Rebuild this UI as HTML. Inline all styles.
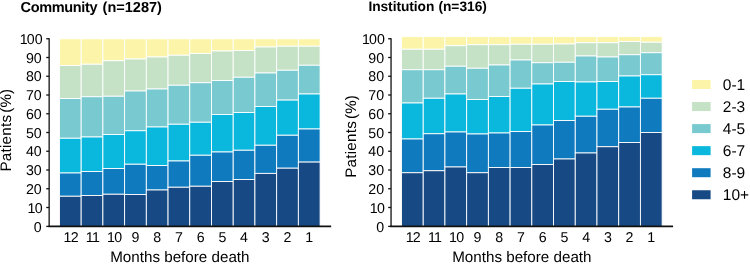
<!DOCTYPE html>
<html lang="en">
<head>
<meta charset="utf-8">
<title>Patients by months before death</title>
<style>
html,body{margin:0;padding:0;background:#fff;}
body{width:750px;height:264px;overflow:hidden;}
svg{display:block;text-rendering:geometricPrecision;font-family:"Liberation Sans",sans-serif;fill:#000;}
.t{font-size:14.2px;}
.ax{font-size:15.2px;}
.lg{font-size:15.5px;}
.b rect{stroke:#fff;stroke-width:0.9;}
.l{stroke:#111;stroke-width:1.3;fill:none;}
</style>
</head>
<body>
<svg width="750" height="264" viewBox="0 0 750 264">
<rect x="0" y="0" width="750" height="264" fill="#fff"/>
<g class="b">
<rect x="59.45" y="38.75" width="21.72" height="26.75" fill="#FCF5A9"/>
<rect x="59.45" y="65.50" width="21.72" height="33.00" fill="#C5E2C6"/>
<rect x="59.45" y="98.50" width="21.72" height="39.75" fill="#78CAD0"/>
<rect x="59.45" y="138.25" width="21.72" height="34.75" fill="#0BB8DD"/>
<rect x="59.45" y="173.00" width="21.72" height="23.25" fill="#107ABF"/>
<rect x="59.45" y="196.25" width="21.72" height="30.65" fill="#174A85"/>
<rect x="81.17" y="38.75" width="21.72" height="25.50" fill="#FCF5A9"/>
<rect x="81.17" y="64.25" width="21.72" height="32.50" fill="#C5E2C6"/>
<rect x="81.17" y="96.75" width="21.72" height="40.25" fill="#78CAD0"/>
<rect x="81.17" y="137.00" width="21.72" height="34.50" fill="#0BB8DD"/>
<rect x="81.17" y="171.50" width="21.72" height="24.00" fill="#107ABF"/>
<rect x="81.17" y="195.50" width="21.72" height="31.40" fill="#174A85"/>
<rect x="102.89" y="38.75" width="21.72" height="22.00" fill="#FCF5A9"/>
<rect x="102.89" y="60.75" width="21.72" height="35.50" fill="#C5E2C6"/>
<rect x="102.89" y="96.25" width="21.72" height="38.25" fill="#78CAD0"/>
<rect x="102.89" y="134.50" width="21.72" height="34.00" fill="#0BB8DD"/>
<rect x="102.89" y="168.50" width="21.72" height="25.75" fill="#107ABF"/>
<rect x="102.89" y="194.25" width="21.72" height="32.65" fill="#174A85"/>
<rect x="124.61" y="38.75" width="21.72" height="20.25" fill="#FCF5A9"/>
<rect x="124.61" y="59.00" width="21.72" height="32.00" fill="#C5E2C6"/>
<rect x="124.61" y="91.00" width="21.72" height="39.75" fill="#78CAD0"/>
<rect x="124.61" y="130.75" width="21.72" height="33.50" fill="#0BB8DD"/>
<rect x="124.61" y="164.25" width="21.72" height="30.25" fill="#107ABF"/>
<rect x="124.61" y="194.50" width="21.72" height="32.40" fill="#174A85"/>
<rect x="146.33" y="38.75" width="21.72" height="18.25" fill="#FCF5A9"/>
<rect x="146.33" y="57.00" width="21.72" height="32.00" fill="#C5E2C6"/>
<rect x="146.33" y="89.00" width="21.72" height="38.00" fill="#78CAD0"/>
<rect x="146.33" y="127.00" width="21.72" height="38.50" fill="#0BB8DD"/>
<rect x="146.33" y="165.50" width="21.72" height="24.50" fill="#107ABF"/>
<rect x="146.33" y="190.00" width="21.72" height="36.90" fill="#174A85"/>
<rect x="168.05" y="38.75" width="21.72" height="16.50" fill="#FCF5A9"/>
<rect x="168.05" y="55.25" width="21.72" height="30.00" fill="#C5E2C6"/>
<rect x="168.05" y="85.25" width="21.72" height="39.00" fill="#78CAD0"/>
<rect x="168.05" y="124.25" width="21.72" height="36.75" fill="#0BB8DD"/>
<rect x="168.05" y="161.00" width="21.72" height="26.25" fill="#107ABF"/>
<rect x="168.05" y="187.25" width="21.72" height="39.65" fill="#174A85"/>
<rect x="189.77" y="38.75" width="21.72" height="14.75" fill="#FCF5A9"/>
<rect x="189.77" y="53.50" width="21.72" height="29.25" fill="#C5E2C6"/>
<rect x="189.77" y="82.75" width="21.72" height="39.50" fill="#78CAD0"/>
<rect x="189.77" y="122.25" width="21.72" height="33.00" fill="#0BB8DD"/>
<rect x="189.77" y="155.25" width="21.72" height="31.00" fill="#107ABF"/>
<rect x="189.77" y="186.25" width="21.72" height="40.65" fill="#174A85"/>
<rect x="211.49" y="38.75" width="21.72" height="12.25" fill="#FCF5A9"/>
<rect x="211.49" y="51.00" width="21.72" height="29.50" fill="#C5E2C6"/>
<rect x="211.49" y="80.50" width="21.72" height="34.00" fill="#78CAD0"/>
<rect x="211.49" y="114.50" width="21.72" height="37.50" fill="#0BB8DD"/>
<rect x="211.49" y="152.00" width="21.72" height="29.50" fill="#107ABF"/>
<rect x="211.49" y="181.50" width="21.72" height="45.40" fill="#174A85"/>
<rect x="233.21" y="38.75" width="21.72" height="11.75" fill="#FCF5A9"/>
<rect x="233.21" y="50.50" width="21.72" height="26.75" fill="#C5E2C6"/>
<rect x="233.21" y="77.25" width="21.72" height="35.25" fill="#78CAD0"/>
<rect x="233.21" y="112.50" width="21.72" height="37.75" fill="#0BB8DD"/>
<rect x="233.21" y="150.25" width="21.72" height="29.25" fill="#107ABF"/>
<rect x="233.21" y="179.50" width="21.72" height="47.40" fill="#174A85"/>
<rect x="254.93" y="38.75" width="21.72" height="8.25" fill="#FCF5A9"/>
<rect x="254.93" y="47.00" width="21.72" height="26.00" fill="#C5E2C6"/>
<rect x="254.93" y="73.00" width="21.72" height="33.50" fill="#78CAD0"/>
<rect x="254.93" y="106.50" width="21.72" height="38.75" fill="#0BB8DD"/>
<rect x="254.93" y="145.25" width="21.72" height="28.15" fill="#107ABF"/>
<rect x="254.93" y="173.40" width="21.72" height="53.50" fill="#174A85"/>
<rect x="276.65" y="38.75" width="21.72" height="7.45" fill="#FCF5A9"/>
<rect x="276.65" y="46.20" width="21.72" height="24.05" fill="#C5E2C6"/>
<rect x="276.65" y="70.25" width="21.72" height="29.85" fill="#78CAD0"/>
<rect x="276.65" y="100.10" width="21.72" height="35.15" fill="#0BB8DD"/>
<rect x="276.65" y="135.25" width="21.72" height="32.95" fill="#107ABF"/>
<rect x="276.65" y="168.20" width="21.72" height="58.70" fill="#174A85"/>
<rect x="298.37" y="38.75" width="21.72" height="7.45" fill="#FCF5A9"/>
<rect x="298.37" y="46.20" width="21.72" height="19.05" fill="#C5E2C6"/>
<rect x="298.37" y="65.25" width="21.72" height="28.75" fill="#78CAD0"/>
<rect x="298.37" y="94.00" width="21.72" height="35.00" fill="#0BB8DD"/>
<rect x="298.37" y="129.00" width="21.72" height="33.10" fill="#107ABF"/>
<rect x="298.37" y="162.10" width="21.72" height="64.80" fill="#174A85"/>
</g>
<path class="l" d="M49.15 38.2 V227.05"/>
<path class="l" style="stroke-width:1.65" d="M48.5 226.4 H331.15"/>
<path class="l" d="M46.25 226.4 H49.15"/>
<text class="t" x="41.75" y="231.70" text-anchor="end">0</text>
<path class="l" d="M46.25 207.5 H49.15"/>
<text class="t" x="41.75" y="212.55" text-anchor="end"><tspan dx="0.8">1</tspan><tspan dx="-0.8">0</tspan></text>
<path class="l" d="M46.25 188.75 H49.15"/>
<text class="t" x="41.75" y="193.80" text-anchor="end">20</text>
<path class="l" d="M46.25 170.0 H49.15"/>
<text class="t" x="41.75" y="175.05" text-anchor="end">30</text>
<path class="l" d="M46.25 151.25 H49.15"/>
<text class="t" x="41.75" y="156.30" text-anchor="end">40</text>
<path class="l" d="M46.25 132.5 H49.15"/>
<text class="t" x="41.75" y="137.55" text-anchor="end">50</text>
<path class="l" d="M46.25 113.75 H49.15"/>
<text class="t" x="41.75" y="118.80" text-anchor="end">60</text>
<path class="l" d="M46.25 95.0 H49.15"/>
<text class="t" x="41.75" y="100.05" text-anchor="end">70</text>
<path class="l" d="M46.25 76.25 H49.15"/>
<text class="t" x="41.75" y="81.30" text-anchor="end">80</text>
<path class="l" d="M46.25 57.5 H49.15"/>
<text class="t" x="41.75" y="62.55" text-anchor="end">90</text>
<path class="l" d="M46.25 38.75 H49.15"/>
<text class="t" x="41.75" y="43.80" text-anchor="end"><tspan dx="0.8">1</tspan><tspan dx="-0.8">00</tspan></text>
<text class="t" x="70.31" y="241.55" text-anchor="middle"><tspan dx="0.8">1</tspan><tspan dx="-0.8">2</tspan></text>
<text class="t" x="92.03" y="241.55" text-anchor="middle"><tspan dx="0.8">1</tspan><tspan dx="-0.8">1</tspan></text>
<text class="t" x="113.75" y="241.55" text-anchor="middle"><tspan dx="0.8">1</tspan><tspan dx="-0.8">0</tspan></text>
<text class="t" x="135.47" y="241.55" text-anchor="middle">9</text>
<text class="t" x="157.19" y="241.55" text-anchor="middle">8</text>
<text class="t" x="178.91" y="241.55" text-anchor="middle">7</text>
<text class="t" x="200.63" y="241.55" text-anchor="middle">6</text>
<text class="t" x="222.35" y="241.55" text-anchor="middle">5</text>
<text class="t" x="244.07" y="241.55" text-anchor="middle">4</text>
<text class="t" x="265.79" y="241.55" text-anchor="middle">3</text>
<text class="t" x="287.51" y="241.55" text-anchor="middle">2</text>
<text class="t" x="309.23" y="241.55" text-anchor="middle">1</text>
<text class="ax" x="110.2" y="261.8">Months before death</text>
<text class="ax" transform="translate(11.2 171.6) rotate(-90)"><tspan letter-spacing="0.25">Patients</tspan> <tspan dx="-2.2">(%)</tspan></text>
<text x="20.6" y="11.7" font-weight="bold" font-size="14.5"><tspan letter-spacing="-0.35">Community</tspan> <tspan x="102.6">(n=1287)</tspan></text>
<g class="b">
<rect x="401.50" y="36.60" width="21.72" height="12.65" fill="#FCF5A9"/>
<rect x="401.50" y="49.25" width="21.72" height="20.50" fill="#C5E2C6"/>
<rect x="401.50" y="69.75" width="21.72" height="33.25" fill="#78CAD0"/>
<rect x="401.50" y="103.00" width="21.72" height="36.00" fill="#0BB8DD"/>
<rect x="401.50" y="139.00" width="21.72" height="33.75" fill="#107ABF"/>
<rect x="401.50" y="172.75" width="21.72" height="54.15" fill="#174A85"/>
<rect x="423.22" y="36.60" width="21.72" height="12.65" fill="#FCF5A9"/>
<rect x="423.22" y="49.25" width="21.72" height="20.50" fill="#C5E2C6"/>
<rect x="423.22" y="69.75" width="21.72" height="28.50" fill="#78CAD0"/>
<rect x="423.22" y="98.25" width="21.72" height="35.50" fill="#0BB8DD"/>
<rect x="423.22" y="133.75" width="21.72" height="37.00" fill="#107ABF"/>
<rect x="423.22" y="170.75" width="21.72" height="56.15" fill="#174A85"/>
<rect x="444.94" y="36.60" width="21.72" height="9.15" fill="#FCF5A9"/>
<rect x="444.94" y="45.75" width="21.72" height="20.50" fill="#C5E2C6"/>
<rect x="444.94" y="66.25" width="21.72" height="27.75" fill="#78CAD0"/>
<rect x="444.94" y="94.00" width="21.72" height="38.00" fill="#0BB8DD"/>
<rect x="444.94" y="132.00" width="21.72" height="35.00" fill="#107ABF"/>
<rect x="444.94" y="167.00" width="21.72" height="59.90" fill="#174A85"/>
<rect x="466.66" y="36.60" width="21.72" height="8.15" fill="#FCF5A9"/>
<rect x="466.66" y="44.75" width="21.72" height="23.50" fill="#C5E2C6"/>
<rect x="466.66" y="68.25" width="21.72" height="31.25" fill="#78CAD0"/>
<rect x="466.66" y="99.50" width="21.72" height="34.50" fill="#0BB8DD"/>
<rect x="466.66" y="134.00" width="21.72" height="38.75" fill="#107ABF"/>
<rect x="466.66" y="172.75" width="21.72" height="54.15" fill="#174A85"/>
<rect x="488.38" y="36.60" width="21.72" height="8.15" fill="#FCF5A9"/>
<rect x="488.38" y="44.75" width="21.72" height="20.25" fill="#C5E2C6"/>
<rect x="488.38" y="65.00" width="21.72" height="31.50" fill="#78CAD0"/>
<rect x="488.38" y="96.50" width="21.72" height="36.50" fill="#0BB8DD"/>
<rect x="488.38" y="133.00" width="21.72" height="34.50" fill="#107ABF"/>
<rect x="488.38" y="167.50" width="21.72" height="59.40" fill="#174A85"/>
<rect x="510.10" y="36.60" width="21.72" height="7.65" fill="#FCF5A9"/>
<rect x="510.10" y="44.25" width="21.72" height="15.75" fill="#C5E2C6"/>
<rect x="510.10" y="60.00" width="21.72" height="28.25" fill="#78CAD0"/>
<rect x="510.10" y="88.25" width="21.72" height="43.25" fill="#0BB8DD"/>
<rect x="510.10" y="131.50" width="21.72" height="36.00" fill="#107ABF"/>
<rect x="510.10" y="167.50" width="21.72" height="59.40" fill="#174A85"/>
<rect x="531.82" y="36.60" width="21.72" height="7.65" fill="#FCF5A9"/>
<rect x="531.82" y="44.25" width="21.72" height="18.50" fill="#C5E2C6"/>
<rect x="531.82" y="62.75" width="21.72" height="21.25" fill="#78CAD0"/>
<rect x="531.82" y="84.00" width="21.72" height="41.00" fill="#0BB8DD"/>
<rect x="531.82" y="125.00" width="21.72" height="39.50" fill="#107ABF"/>
<rect x="531.82" y="164.50" width="21.72" height="62.40" fill="#174A85"/>
<rect x="553.54" y="36.60" width="21.72" height="7.40" fill="#FCF5A9"/>
<rect x="553.54" y="44.00" width="21.72" height="18.25" fill="#C5E2C6"/>
<rect x="553.54" y="62.25" width="21.72" height="19.25" fill="#78CAD0"/>
<rect x="553.54" y="81.50" width="21.72" height="39.00" fill="#0BB8DD"/>
<rect x="553.54" y="120.50" width="21.72" height="38.50" fill="#107ABF"/>
<rect x="553.54" y="159.00" width="21.72" height="67.90" fill="#174A85"/>
<rect x="575.26" y="36.60" width="21.72" height="6.15" fill="#FCF5A9"/>
<rect x="575.26" y="42.75" width="21.72" height="13.25" fill="#C5E2C6"/>
<rect x="575.26" y="56.00" width="21.72" height="26.00" fill="#78CAD0"/>
<rect x="575.26" y="82.00" width="21.72" height="34.25" fill="#0BB8DD"/>
<rect x="575.26" y="116.25" width="21.72" height="36.75" fill="#107ABF"/>
<rect x="575.26" y="153.00" width="21.72" height="73.90" fill="#174A85"/>
<rect x="596.98" y="36.60" width="21.72" height="6.15" fill="#FCF5A9"/>
<rect x="596.98" y="42.75" width="21.72" height="14.25" fill="#C5E2C6"/>
<rect x="596.98" y="57.00" width="21.72" height="24.50" fill="#78CAD0"/>
<rect x="596.98" y="81.50" width="21.72" height="27.75" fill="#0BB8DD"/>
<rect x="596.98" y="109.25" width="21.72" height="37.50" fill="#107ABF"/>
<rect x="596.98" y="146.75" width="21.72" height="80.15" fill="#174A85"/>
<rect x="618.70" y="36.60" width="21.72" height="4.90" fill="#FCF5A9"/>
<rect x="618.70" y="41.50" width="21.72" height="13.25" fill="#C5E2C6"/>
<rect x="618.70" y="54.75" width="21.72" height="21.25" fill="#78CAD0"/>
<rect x="618.70" y="76.00" width="21.72" height="31.00" fill="#0BB8DD"/>
<rect x="618.70" y="107.00" width="21.72" height="35.50" fill="#107ABF"/>
<rect x="618.70" y="142.50" width="21.72" height="84.40" fill="#174A85"/>
<rect x="640.42" y="36.60" width="21.72" height="5.65" fill="#FCF5A9"/>
<rect x="640.42" y="42.25" width="21.72" height="10.50" fill="#C5E2C6"/>
<rect x="640.42" y="52.75" width="21.72" height="22.00" fill="#78CAD0"/>
<rect x="640.42" y="74.75" width="21.72" height="23.50" fill="#0BB8DD"/>
<rect x="640.42" y="98.25" width="21.72" height="34.25" fill="#107ABF"/>
<rect x="640.42" y="132.50" width="21.72" height="94.40" fill="#174A85"/>
</g>
<path class="l" d="M391.05 38.2 V227.05"/>
<path class="l" style="stroke-width:1.65" d="M390.40000000000003 226.4 H673.05"/>
<path class="l" d="M388.15000000000003 226.4 H391.05"/>
<text class="t" x="384.05" y="231.70" text-anchor="end">0</text>
<path class="l" d="M388.15000000000003 207.5 H391.05"/>
<text class="t" x="384.05" y="212.55" text-anchor="end"><tspan dx="0.8">1</tspan><tspan dx="-0.8">0</tspan></text>
<path class="l" d="M388.15000000000003 188.75 H391.05"/>
<text class="t" x="384.05" y="193.80" text-anchor="end">20</text>
<path class="l" d="M388.15000000000003 170.0 H391.05"/>
<text class="t" x="384.05" y="175.05" text-anchor="end">30</text>
<path class="l" d="M388.15000000000003 151.25 H391.05"/>
<text class="t" x="384.05" y="156.30" text-anchor="end">40</text>
<path class="l" d="M388.15000000000003 132.5 H391.05"/>
<text class="t" x="384.05" y="137.55" text-anchor="end">50</text>
<path class="l" d="M388.15000000000003 113.75 H391.05"/>
<text class="t" x="384.05" y="118.80" text-anchor="end">60</text>
<path class="l" d="M388.15000000000003 95.0 H391.05"/>
<text class="t" x="384.05" y="100.05" text-anchor="end">70</text>
<path class="l" d="M388.15000000000003 76.25 H391.05"/>
<text class="t" x="384.05" y="81.30" text-anchor="end">80</text>
<path class="l" d="M388.15000000000003 57.5 H391.05"/>
<text class="t" x="384.05" y="62.55" text-anchor="end">90</text>
<path class="l" d="M388.15000000000003 38.75 H391.05"/>
<text class="t" x="384.05" y="43.80" text-anchor="end"><tspan dx="0.8">1</tspan><tspan dx="-0.8">00</tspan></text>
<text class="t" x="412.36" y="241.55" text-anchor="middle"><tspan dx="0.8">1</tspan><tspan dx="-0.8">2</tspan></text>
<text class="t" x="434.08" y="241.55" text-anchor="middle"><tspan dx="0.8">1</tspan><tspan dx="-0.8">1</tspan></text>
<text class="t" x="455.80" y="241.55" text-anchor="middle"><tspan dx="0.8">1</tspan><tspan dx="-0.8">0</tspan></text>
<text class="t" x="477.52" y="241.55" text-anchor="middle">9</text>
<text class="t" x="499.24" y="241.55" text-anchor="middle">8</text>
<text class="t" x="520.96" y="241.55" text-anchor="middle">7</text>
<text class="t" x="542.68" y="241.55" text-anchor="middle">6</text>
<text class="t" x="564.40" y="241.55" text-anchor="middle">5</text>
<text class="t" x="586.12" y="241.55" text-anchor="middle">4</text>
<text class="t" x="607.84" y="241.55" text-anchor="middle">3</text>
<text class="t" x="629.56" y="241.55" text-anchor="middle">2</text>
<text class="t" x="651.28" y="241.55" text-anchor="middle">1</text>
<text class="ax" x="452.2" y="261.8">Months before death</text>
<text class="ax" transform="translate(356.4 177.8) rotate(-90)"><tspan letter-spacing="0.25">Patients</tspan> <tspan dx="-2.2">(%)</tspan></text>
<text x="368.4" y="11.35" font-weight="bold" font-size="13.75"><tspan letter-spacing="-0.05">Institution</tspan> <tspan x="438.4">(n=316)</tspan></text>
<rect x="692.1" y="80.00" width="18.5" height="9" fill="#FCF5A9"/>
<text class="lg" x="722.8" y="89.65">0-1</text>
<rect x="692.1" y="102.05" width="18.5" height="9" fill="#C5E2C6"/>
<text class="lg" x="722.8" y="111.70">2-3</text>
<rect x="692.1" y="124.10" width="18.5" height="9" fill="#78CAD0"/>
<text class="lg" x="722.8" y="133.75">4-5</text>
<rect x="692.1" y="146.15" width="18.5" height="9" fill="#0BB8DD"/>
<text class="lg" x="722.8" y="155.80">6-7</text>
<rect x="692.1" y="168.20" width="18.5" height="9" fill="#107ABF"/>
<text class="lg" x="722.8" y="177.85">8-9</text>
<rect x="692.1" y="190.25" width="18.5" height="9" fill="#174A85"/>
<text class="lg" x="722.8" y="199.90">10+</text>
</svg>
</body>
</html>
